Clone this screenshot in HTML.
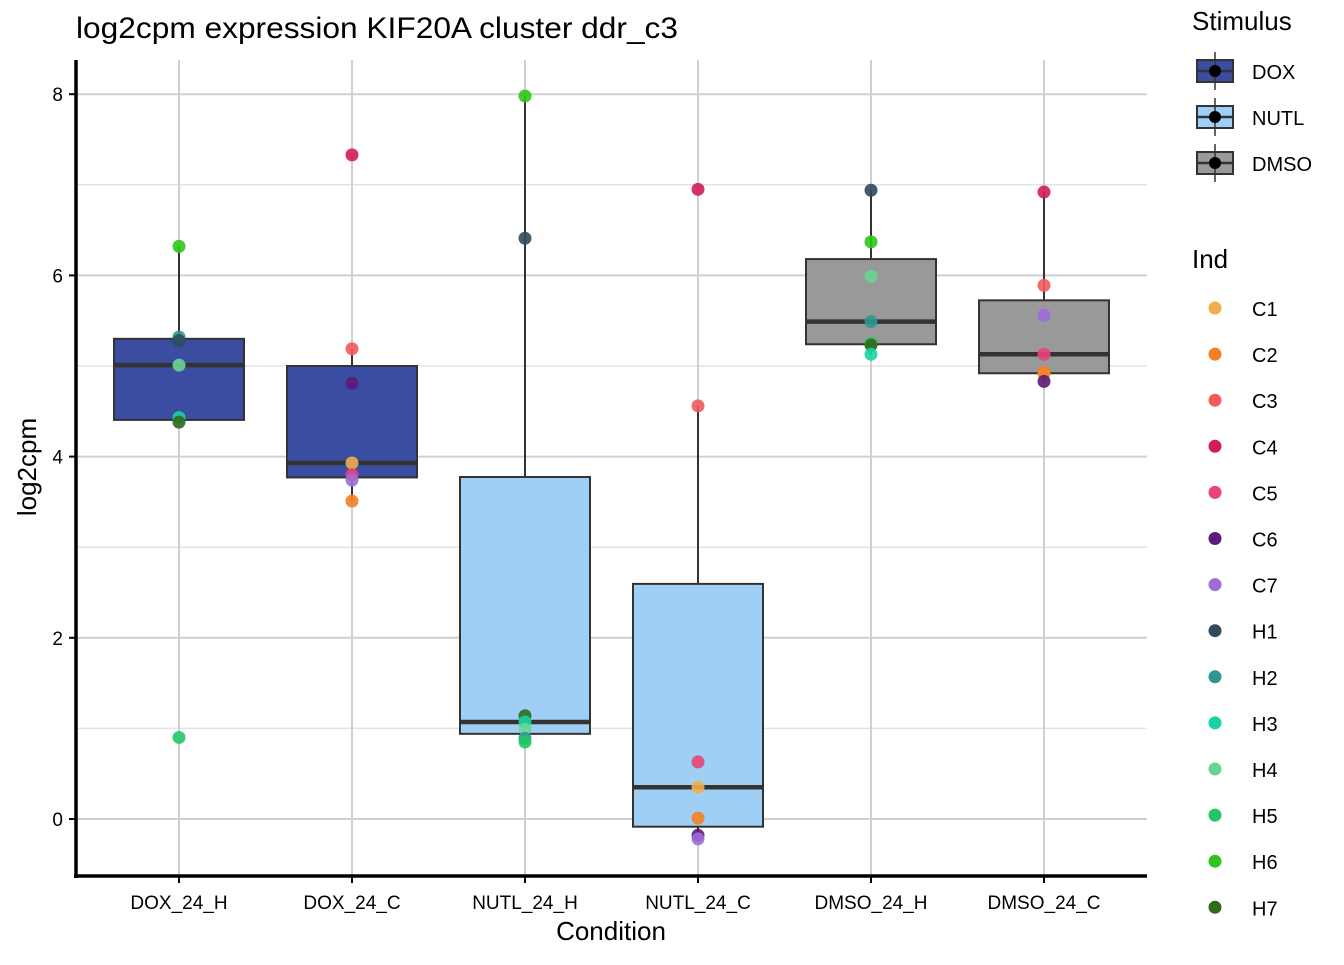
<!DOCTYPE html>
<html><head><meta charset="utf-8"><style>
body{margin:0;background:#fff;}
svg text{font-family:"Liberation Sans",Arial,sans-serif;}
</style></head><body>
<svg id="chart" width="1344" height="960" xmlns="http://www.w3.org/2000/svg">
<text x="76" y="38" font-size="30" textLength="602" lengthAdjust="spacingAndGlyphs" fill="#000">log2cpm expression KIF20A cluster ddr_c3</text>
<g id="grid"></g><g id="boxes"></g><g id="pts"></g><g id="axes"></g><g id="legend"></g>
</svg>
<script>
const categories=["DOX_24_H","DOX_24_C","NUTL_24_H","NUTL_24_C","DMSO_24_H","DMSO_24_C"];
const stimulus=["DOX","DOX","NUTL","NUTL","DMSO","DMSO"];
const pointInd=[
["H6","H2","H1","H4","H3","H7","H5"],
["C4","C3","C6","C1","C5","C7","C2"],
["H6","H1","H7","H3","H4","H2","H5"],
["C4","C3","C5","C1","C2","C6","C7"],
["H1","H6","H4","H2","H5","H7","H3"],
["C4","C3","C7","C5","C1","C2","C6"]];
const pointVals=[
[6.32,5.32,5.28,5.01,4.43,4.38,0.90],
[7.33,5.19,4.81,3.93,3.80,3.74,3.51],
[7.98,6.41,1.14,1.07,0.99,0.89,0.85],
[6.95,4.56,0.63,0.35,0.01,-0.18,-0.22],
[6.94,6.37,5.99,5.49,5.25,5.23,5.13],
[6.92,5.89,5.56,5.13,4.91,4.93,4.83]];
const yTicks=[0,2,4,6,8];
const indNames=["C1","C2","C3","C4","C5","C6","C7","H1","H2","H3","H4","H5","H6","H7"];
const indColors=["#f2ae4c","#f57f22","#f25a5c","#d21c58","#e8437a","#5e1a78","#9d6cd9","#30495c","#2e978d","#18d4a4","#68d594","#25c565","#2fc51e","#2f6b1d"];
const stimNames=["DOX","NUTL","DMSO"];
const stimColors=["#3a4da0","#a0cff5","#999999"];
const NS="http://www.w3.org/2000/svg";
const X0=76,X1=1147,Ytop=60,Ybot=876;
const y=v=>819-v*90.6;
const x=i=>179+i*173;
function mk(p,t,a){const e=document.createElementNS(NS,t);for(const k in a)e.setAttribute(k,a[k]);p.appendChild(e);return e;}
const g=document.getElementById('grid'),bx=document.getElementById('boxes'),pt=document.getElementById('pts'),ax=document.getElementById('axes'),lg=document.getElementById('legend');
for(let v=1;v<=7;v+=2){const l=mk(g,'line',{x1:X0,x2:X1,y1:y(v),y2:y(v),stroke:'#e3e3e3','stroke-width':1.5});

}
yTicks.forEach(v=>{const l=mk(g,'line',{x1:X0,x2:X1,y1:y(v),y2:y(v),stroke:'#d0d0d0','stroke-width':2});

});
categories.forEach((c,i)=>{const l=mk(g,'line',{x1:x(i),x2:x(i),y1:Ytop,y2:Ybot,stroke:'#d0d0d0','stroke-width':2});

});
function q(s,p){const h=(s.length-1)*p,lo=Math.floor(h),hi=Math.ceil(h);return s[lo]+(s[hi]-s[lo])*(h-lo);}
categories.forEach((c,i)=>{
 const s=pointVals[i].slice().sort((a,b)=>a-b);
 const q1=q(s,.25),md=q(s,.5),q3=q(s,.75),iqr=q3-q1;
 const wl=Math.min(...s.filter(v=>v>=q1-1.5*iqr)),wh=Math.max(...s.filter(v=>v<=q3+1.5*iqr));
 const col=stimColors[stimNames.indexOf(stimulus[i])];
 const gg=mk(bx,'g',{});
 
 
 mk(gg,'line',{x1:x(i),x2:x(i),y1:y(wh),y2:y(q3),stroke:'#333','stroke-width':2});
 mk(gg,'line',{x1:x(i),x2:x(i),y1:y(q1),y2:y(wl),stroke:'#333','stroke-width':2});
 mk(gg,'rect',{x:x(i)-65,y:y(q3),width:130,height:y(q1)-y(q3),fill:col,stroke:'#333','stroke-width':2});
 mk(gg,'line',{x1:x(i)-65,x2:x(i)+65,y1:y(md),y2:y(md),stroke:'#333','stroke-width':4.5});
 pointVals[i].forEach((v,j)=>{const ci=indNames.indexOf(pointInd[i][j]);
  const p=mk(pt,'circle',{cx:x(i),cy:y(v),r:6.5,fill:indColors[ci],'fill-opacity':0.9});
  
  });
});
let a=mk(ax,'line',{x1:X0,x2:X0,y1:Ytop,y2:Ybot+2,stroke:'#000','stroke-width':3.5});

a=mk(ax,'line',{x1:X0-2,x2:X1,y1:Ybot,y2:Ybot,stroke:'#000','stroke-width':3.5});

yTicks.forEach(v=>{mk(ax,'line',{x1:X0-7,x2:X0,y1:y(v),y2:y(v),stroke:'#000','stroke-width':2});
 const t=mk(ax,'text',{x:X0-13,y:y(v)+7,'font-size':19,'text-anchor':'end',fill:'#000'});t.textContent=v;
 });
categories.forEach((c,i)=>{mk(ax,'line',{x1:x(i),x2:x(i),y1:Ybot,y2:Ybot+7,stroke:'#000','stroke-width':2});
 const t=mk(ax,'text',{x:x(i),y:909,'font-size':19,'text-anchor':'middle',fill:'#000'});t.textContent=c;
 });
let t=mk(ax,'text',{x:611,y:940,'font-size':26,'text-anchor':'middle'});t.textContent='Condition';

t=mk(ax,'text',{x:36,y:467,'font-size':26,'text-anchor':'middle',transform:'rotate(-90 36 467)'});t.textContent='log2cpm';

t=mk(lg,'text',{x:1192,y:30,'font-size':26});t.textContent='Stimulus';

stimNames.forEach((s,i)=>{const cy=71+i*46;const e=mk(lg,'g',{});
 
 mk(e,'rect',{x:1197,y:cy-11,width:36,height:22,fill:stimColors[i],stroke:'#333','stroke-width':2});
 mk(e,'line',{x1:1215,x2:1215,y1:cy-19,y2:cy+19,stroke:'#333','stroke-width':1.5});
 mk(e,'line',{x1:1197,x2:1233,y1:cy,y2:cy,stroke:'#333','stroke-width':2.5});
 mk(e,'circle',{cx:1215,cy:cy,r:6,fill:'#000'});
 const tt=mk(e,'text',{x:1252,y:cy+8,'font-size':20});tt.textContent=s;});
t=mk(lg,'text',{x:1192,y:268,'font-size':26});t.textContent='Ind';

indNames.forEach((s,i)=>{const cy=308+i*46.1;const e=mk(lg,'g',{});
 
 mk(e,'circle',{cx:1215,cy:cy,r:6.5,fill:indColors[i]});
 const tt=mk(e,'text',{x:1252,y:cy+8,'font-size':20});tt.textContent=s;});
</script>
</body></html>
